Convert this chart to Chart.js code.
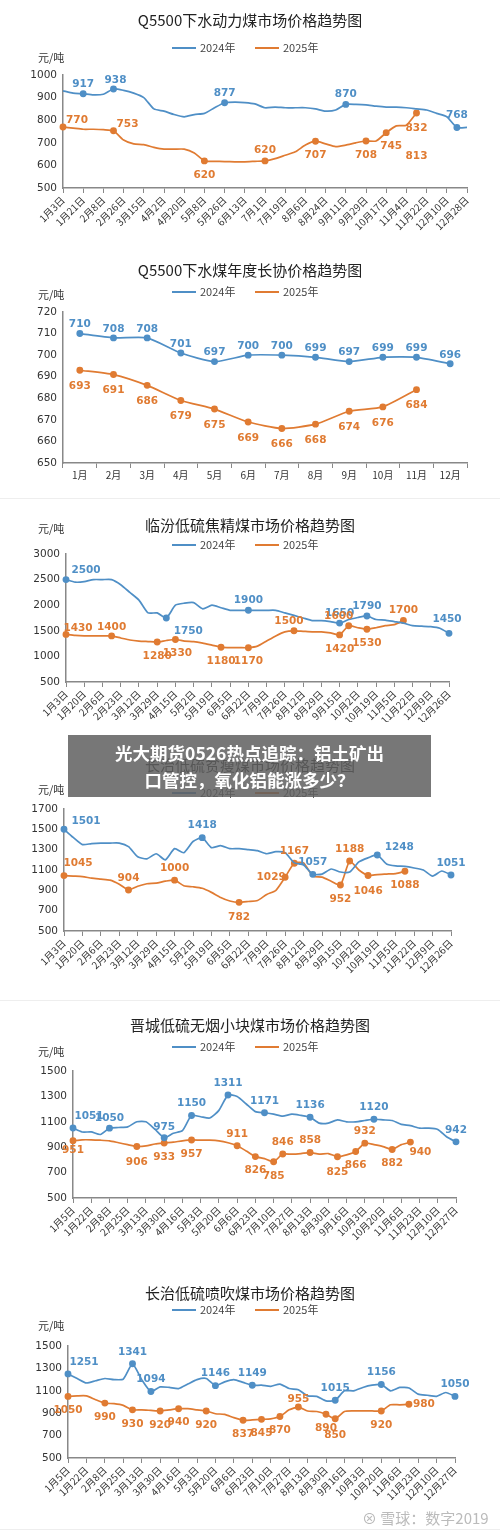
<!DOCTYPE html>
<html><head><meta charset="utf-8">
<script src="https://cdn.jsdelivr.net/npm/chart.js@4/dist/chart.umd.min.js"></script>
<style>
body{margin:0;background:#fff;width:500px;height:1533px;position:relative;overflow:hidden;font-family:"Noto Sans CJK SC",sans-serif}
.c{position:absolute;left:0;width:500px}
#ov{position:absolute;left:68px;top:735px;width:363px;height:62px;background:rgba(95,95,95,0.85);color:#fff;font-weight:bold;font-size:17.5px;line-height:27px;text-align:center;padding-top:4px;box-sizing:border-box}
.sep{position:absolute;left:0;width:500px;height:1px;background:#eee}
#wm{position:absolute;left:362px;top:1507px;font-size:15px;color:#bbb}
</style></head><body>
<div class="c" style="top:0;height:250px"><canvas id="c1"></canvas></div>
<div class="c" style="top:250px;height:245px"><canvas id="c2"></canvas></div>
<div class="sep" style="top:498px"></div>
<div class="c" style="top:500px;height:222px"><canvas id="c3"></canvas></div>
<div class="c" style="top:722px;height:263px"><canvas id="c4"></canvas></div>
<div class="sep" style="top:1000px"></div>
<div class="c" style="top:1005px;height:265px"><canvas id="c5"></canvas></div>
<div class="c" style="top:1275px;height:258px"><canvas id="c6"></canvas></div>
<div class="sep" style="top:1529px"></div>
<div id="wm">⊗ 雪球：数字2019</div>
<div id="ov">光大期货0526热点追踪：铝土矿出<br>口管控，氧化铝能涨多少？</div>
<script>
// ---- data ----
const titles=["Q5500下水动力煤市场价格趋势图","Q5500下水煤年度长协价格趋势图","临汾低硫焦精煤市场价格趋势图","长治低硫贫瘦煤市场价格趋势图","晋城低硫无烟小块煤市场价格趋势图","长治低硫喷吹煤市场价格趋势图"];
const seriesNames=["2024年","2025年"];
const ticks1=["1月3日","1月21日","2月8日","2月26日","3月15日","4月2日","4月20日","5月8日","5月26日","6月13日","7月1日","7月19日","8月6日","8月24日","9月11日","9月29日","10月17日","11月4日","11月22日","12月10日","12月28日"];
const ticks2=["1月","2月","3月","4月","5月","6月","7月","8月","9月","10月","11月","12月"];
const ticks34=["1月3日","1月20日","2月6日","2月23日","3月12日","3月29日","4月15日","5月2日","5月19日","6月5日","6月22日","7月9日","7月26日","8月12日","8月29日","9月15日","10月2日","10月19日","11月5日","11月22日","12月9日","12月26日"];
const ticks56=["1月5日","1月22日","2月8日","2月25日","3月13日","3月30日","4月16日","5月3日","5月20日","6月6日","6月23日","7月10日","7月27日","8月13日","8月30日","9月16日","10月3日","10月20日","11月6日","11月23日","12月10日","12月27日"];

const c1_2024=[930,920,917,912,915,938,932,920,900,850,840,825,815,825,830,855,877,880,878,872,855,858,855,855,855,850,840,845,870,870,868,862,858,858,855,850,845,830,815,768,768];
const c1_2025=[770,765,760,760,758,753,712,695,692,680,672,672,672,655,620,618,617,616,616,618,620,630,645,660,690,707,695,683,690,700,708,708,745,775,778,832];
const c2_2024=[710,708,708,701,697,700,700,699,697,699,699,696];
const c2_2025=[693,691,686,679,675,669,666,668,674,676,684,null];
const c3_2024=[2500,2450,2460,2500,2500,2500,2400,2250,2100,1850,1850,1750,2000,2040,2050,1930,2000,1950,1900,1900,1900,1900,1900,1900,1850,1800,1750,1700,1700,1680,1650,1720,1760,1790,1720,1710,1680,1650,1600,1590,1580,1550,1450];
const c3_2025=[1430,1410,1400,1400,1400,1400,1360,1320,1300,1290,1280,1310,1330,1300,1290,1260,1220,1180,1170,1170,1170,1200,1300,1400,1480,1500,1490,1480,1480,1460,1420,1600,1560,1530,1560,1600,1620,1700];
const c4_2024=[1501,1420,1350,1360,1365,1365,1365,1330,1230,1210,1260,1200,1310,1270,1380,1418,1320,1340,1310,1310,1300,1290,1260,1280,1270,1170,1150,1057,1060,1110,1080,1080,1180,1220,1248,1160,1140,1135,1120,1100,1040,1090,1051];
const c4_2025=[1045,1040,1035,1020,1010,1000,960,904,940,965,970,990,1000,945,935,920,880,830,795,782,790,800,860,900,1029,1167,1170,1040,1030,990,952,1188,1100,1046,1055,1060,1065,1088];
const c5_2024=[1051,1020,1020,1000,1050,1055,1060,1100,1100,1040,975,1010,1030,1150,1140,1130,1190,1311,1300,1240,1180,1171,1160,1145,1160,1150,1136,1090,1090,1115,1100,1100,1110,1120,1115,1110,1080,1070,1050,1050,1040,980,942];
const c5_2025=[951,958,958,955,950,935,920,906,910,925,933,940,950,957,955,955,950,935,911,870,826,810,785,846,845,850,858,845,850,825,840,866,932,920,905,882,920,940];
const c6_2024=[1251,1210,1170,1190,1210,1200,1205,1341,1200,1094,1135,1130,1120,1160,1200,1210,1146,1180,1200,1175,1149,1150,1140,1160,1120,1110,1055,1050,1010,1015,1100,1100,1130,1150,1156,1100,1130,1125,1070,1060,1050,1085,1050];
const c6_2025=[1050,1055,1055,1020,990,985,970,930,930,925,920,930,940,940,930,920,895,890,860,837,840,845,850,870,930,955,920,915,890,850,915,920,920,920,920,975,975,980];

// labelled points: [series, index, dx, dy]
const lab1=[[0,2,0,-9],[0,5,2,-9],[0,16,0,-10],[0,28,0,-10],[0,39,0,-12],[1,0,14,-7],[1,5,14,-7],[1,14,0,14],[1,20,0,-11],[1,25,0,14],[1,30,0,14],[1,32,5,14],[1,35,0,15],[1,35,0,43,"813"]];
const lab2=[];for(let i=0;i<12;i++){lab2.push([0,i,0,-9]);if(i<11)lab2.push([1,i,0,16]);}
const lab3=[[0,0,20,-9],[0,11,22,13],[0,20,0,-10],[0,30,0,-10],[0,33,0,-10],[0,42,-2,-14],[1,0,12,-6],[1,5,0,-9],[1,10,0,14],[1,12,2,14],[1,17,0,14],[1,20,0,14],[1,25,-5,-10],[1,30,0,14],[1,31,-10,-9],[1,33,0,14],[1,37,0,-10]];
const lab4=[[0,0,22,-8],[0,15,0,-12],[0,27,0,-12],[0,34,22,-8],[0,42,0,-12],[1,0,14,-12],[1,7,0,-12],[1,12,0,-12],[1,19,0,15],[1,24,-14,0],[1,25,0,-12],[1,30,0,14],[1,31,0,-12],[1,33,0,16],[1,37,0,14]];
const lab5=[[0,0,16,-12],[0,4,0,-10],[0,10,0,-10],[0,13,0,-12],[0,17,0,-12],[0,21,0,-12],[0,26,0,-12],[0,33,0,-12],[0,42,0,-12],[1,0,0,10],[1,7,0,16],[1,10,0,14],[1,13,0,14],[1,18,0,-12],[1,20,0,14],[1,22,0,14],[1,23,0,-12],[1,26,0,-12],[1,29,0,16],[1,31,0,14],[1,32,0,-12],[1,35,0,14],[1,37,10,10]];
const lab6=[[0,0,16,-12],[0,7,0,-12],[0,9,0,-12],[0,16,0,-12],[0,20,0,-12],[0,29,0,-12],[0,34,0,-12],[0,42,0,-12],[1,0,0,14],[1,4,0,14],[1,7,0,14],[1,10,0,14],[1,12,0,14],[1,15,0,14],[1,19,0,14],[1,21,0,14],[1,23,0,14],[1,25,0,-8],[1,28,0,14],[1,29,0,16],[1,34,0,14],[1,37,15,0]];

const BLUE='#4f8fc6',ORANGE='#e07b32';
function expand(t){const a=[];t.forEach((x,i)=>{a.push(x);if(i<t.length-1)a.push('');});return a;}

const deco={id:'deco',afterDraw(ch){
  const o=ch.options.plugins.deco,c=ch.ctx;
  c.save();
  c.fillStyle='#222';c.font='15px "Noto Sans CJK SC"';c.textAlign='center';c.textBaseline='middle';
  c.fillText(o.title,250,o.ty);
  c.font='11px "Noto Sans CJK SC"';c.textAlign='left';
  const cx=250;[[BLUE,cx-78],[ORANGE,cx+5]].forEach((p,k)=>{c.strokeStyle=p[0];c.lineWidth=2;c.beginPath();c.moveTo(p[1],o.ly);c.lineTo(p[1]+24,o.ly);c.stroke();c.fillStyle='#444';c.fillText(seriesNames[k],p[1]+28,o.ly);});
  c.fillStyle='#333';c.fillText('元/吨',o.ux,o.uy);
  c.font='bold 10.5px "DejaVu Sans"';c.textAlign='center';
  o.labs.forEach(l=>{const m=ch.getDatasetMeta(l[0]).data[l[1]];const v=ch.data.datasets[l[0]].data[l[1]];
    c.fillStyle=l[0]?ORANGE:BLUE;c.fillText(l[4]||String(v),m.x+l[2],m.y+l[3]);});
  c.restore();}};

function make(id,cfg){
  const n=cfg.labels.length;
  const radius=s=>{const r=new Array(n).fill(0);cfg.labs.forEach(l=>{if(l[0]===s&&!l[4])r[l[1]]=2.6;});return r;};
  const H=document.getElementById(id).parentNode.clientHeight;
  new Chart(document.getElementById(id),{type:'line',
    data:{labels:cfg.labels,datasets:[
      {data:cfg.d24,borderColor:BLUE,backgroundColor:BLUE,borderWidth:1.7,pointRadius:radius(0),tension:0.2},
      {data:cfg.d25,borderColor:ORANGE,backgroundColor:ORANGE,borderWidth:1.7,pointRadius:radius(1),tension:0.2}]},
    options:{responsive:true,maintainAspectRatio:false,animation:false,
      layout:{padding:{top:cfg.top,right:500-cfg.right,left:0,bottom:0}},
      plugins:{legend:{display:false},tooltip:{enabled:false},
        deco:{title:cfg.title,ty:cfg.ty,ly:cfg.ly,ux:cfg.ux||38,uy:cfg.uy,labs:cfg.labs}},
      scales:{
        x:{offset:!!cfg.offset,afterFit(s){s.height=H-cfg.bottom},
          grid:{drawOnChartArea:false,tickLength:5,offset:!!cfg.offset,tickColor:c=>(cfg.labels[c.index]===''?'rgba(0,0,0,0)':'#888')},
          border:{color:'#888',width:1.5},
          ticks:{autoSkip:false,maxRotation:cfg.offset?0:45,minRotation:cfg.offset?0:45,color:'#333',font:{size:10,family:'"Noto Sans CJK SC"'},padding:1}},
        y:{min:cfg.min,max:cfg.max,afterFit(s){s.width=cfg.left},
          grid:{drawOnChartArea:false,drawTicks:false},border:{color:'#888',width:1.5},
          ticks:{stepSize:cfg.step,callback:v=>String(v),color:'#333',font:{size:10.5,family:'"DejaVu Sans"'},padding:6}}}},
    plugins:[deco]});
}
make('c1',{title:titles[0],ty:20,ly:48,uy:58,top:75,bottom:188,left:63,right:467,min:500,max:1000,step:100,labels:expand(ticks1),d24:c1_2024,d25:c1_2025,labs:lab1});
make('c2',{title:titles[1],ty:20,ly:42,uy:45,top:62,bottom:213,left:63,right:467,min:650,max:720,step:10,labels:ticks2,d24:c2_2024,d25:c2_2025,labs:lab2,offset:true});
make('c3',{title:titles[2],ty:25,ly:45,uy:29,top:54,bottom:182,left:66,right:449,min:500,max:3000,step:500,labels:expand(ticks34),d24:c3_2024,d25:c3_2025,labs:lab3});
make('c4',{title:titles[3],ty:43,ly:71,uy:68,top:87,bottom:209,left:64,right:451,min:500,max:1700,step:200,labels:expand(ticks34),d24:c4_2024,d25:c4_2025,labs:lab4});
make('c5',{title:titles[4],ty:20,ly:42,uy:47,top:66,bottom:193,left:73,right:456,min:500,max:1500,step:200,labels:expand(ticks56),d24:c5_2024,d25:c5_2025,labs:lab5});
make('c6',{title:titles[5],ty:18,ly:35,uy:51,top:71,bottom:183,left:68,right:455,min:500,max:1500,step:200,labels:expand(ticks56),d24:c6_2024,d25:c6_2025,labs:lab6});
</script></body></html>
